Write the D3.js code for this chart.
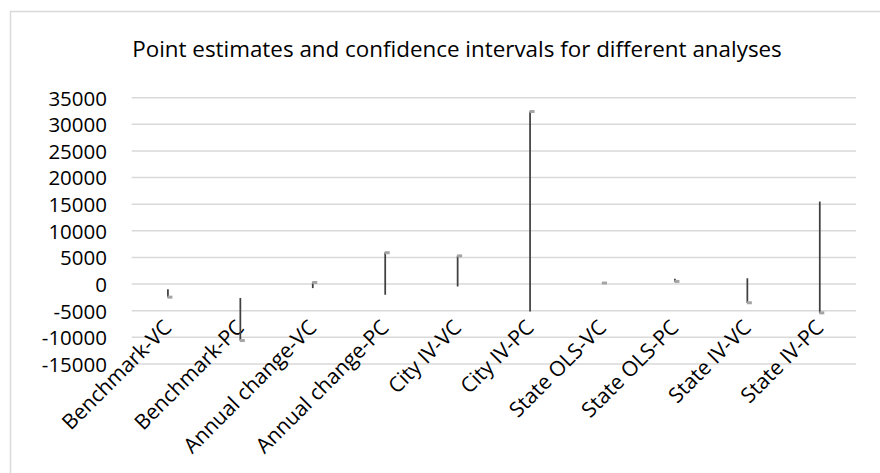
<!DOCTYPE html>
<html>
<head>
<meta charset="utf-8">
<script src="https://cdn.jsdelivr.net/npm/d3@7"></script>
<style>
  body { margin: 0; background: #fff; }
  svg text { font-family: "Open Sans", sans-serif; fill: #000; }
</style>
</head>
<body>
<div id="chart"></div>
<script>
// categories and the high / low / estimate series
var categories = ["Benchmark-VC", "Benchmark-PC", "Annual change-VC", "Annual change-PC",
	"City IV-VC", "City IV-PC", "State OLS-VC", "State OLS-PC", "State IV-VC", "State IV-PC"];
var highValues = [-950, -2600, 350, 5950, 5350, 32400, 250, 1000, 1100, 15500];
var lowValues = [-2450, -10600, -750, -2000, -450, -5150, 150, 450, -3550, -5450];
var estimateValues = [-2450, -10600, 300, 5900, 5300, 32400, 200, 500, -3500, -5400];
var yTicks = [-15000, -10000, -5000, 0, 5000, 10000, 15000, 20000, 25000, 30000, 35000];

var width = 880, height = 473;
var plot = { left: 131.7, right: 856, top: 97.7, bottom: 364 };

var svg = d3.select("#chart").append("svg")
	.attr("width", width)
	.attr("height", height);

// outer chart border (right and bottom edges fall outside the picture)
svg.append("rect")
	.attr("x", 10.5)
	.attr("y", 11.5)
	.attr("width", 900)
	.attr("height", 500)
	.style("fill", "none")
	.style("stroke", "#d9d9d9")
	.style("stroke-width", 1.5);

var xScale = d3.scaleBand()
	.domain(categories)
	.range([plot.left, plot.right]);

var yScale = d3.scaleLinear()
	.domain([-15000, 35000])
	.range([plot.bottom, plot.top]);

// gridlines
svg.append("g")
	.selectAll("line")
	.data(yTicks)
	.enter()
	.append("line")
	.attr("x1", plot.left)
	.attr("x2", plot.right)
	.attr("y1", function(d) { return yScale(d); })
	.attr("y2", function(d) { return yScale(d); })
	.style("stroke", "#d9d9d9")
	.style("stroke-width", 1.5);

// y axis labels
var yAxis = d3.axisLeft(yScale)
	.tickValues(yTicks)
	.tickSize(0)
	.tickPadding(0)
	.tickFormat(function(d) { return d; });

var yG = svg.append("g")
	.attr("transform", "translate(107,0)")
	.call(yAxis);
yG.select(".domain").remove();
yG.selectAll("text")
	.style("font-size", "20.5px")
	.style("font-family", "'Open Sans', sans-serif")
	.attr("dy", "0.36em");

// x axis labels, rotated
svg.append("g")
	.selectAll("text")
	.data(categories)
	.enter()
	.append("text")
	.attr("transform", function(d) {
		var cx = xScale(d) + xScale.bandwidth() / 2;
		return "translate(" + (cx + 5) + ",329) rotate(-45)";
	})
	.style("text-anchor", "end")
	.style("font-size", "21px")
	.text(function(d) { return d; });

// high-low lines
var rows = categories.map(function(c, i) {
	return { cat: c, high: highValues[i], low: lowValues[i], est: estimateValues[i] };
});

svg.append("g")
	.selectAll("line")
	.data(rows)
	.enter()
	.append("line")
	.attr("x1", function(d) { return xScale(d.cat) + xScale.bandwidth() / 2; })
	.attr("x2", function(d) { return xScale(d.cat) + xScale.bandwidth() / 2; })
	.attr("y1", function(d) { return yScale(d.high); })
	.attr("y2", function(d) { return yScale(d.low); })
	.style("stroke", "#404040")
	.style("stroke-width", 1.75);

// estimate markers
svg.append("g")
	.selectAll("rect")
	.data(rows)
	.enter()
	.append("rect")
	.attr("x", function(d) { return xScale(d.cat) + xScale.bandwidth() / 2 - 0.5; })
	.attr("y", function(d) { return yScale(d.est) - 1.5; })
	.attr("width", 5)
	.attr("height", 3)
	.style("fill", "#a5a5a5");

// title
svg.append("text")
	.attr("x", 457)
	.attr("y", 57)
	.style("text-anchor", "middle")
	.style("font-size", "22.4px")
	.text("Point estimates and confidence intervals for different analyses");
</script>
</body>
</html>
